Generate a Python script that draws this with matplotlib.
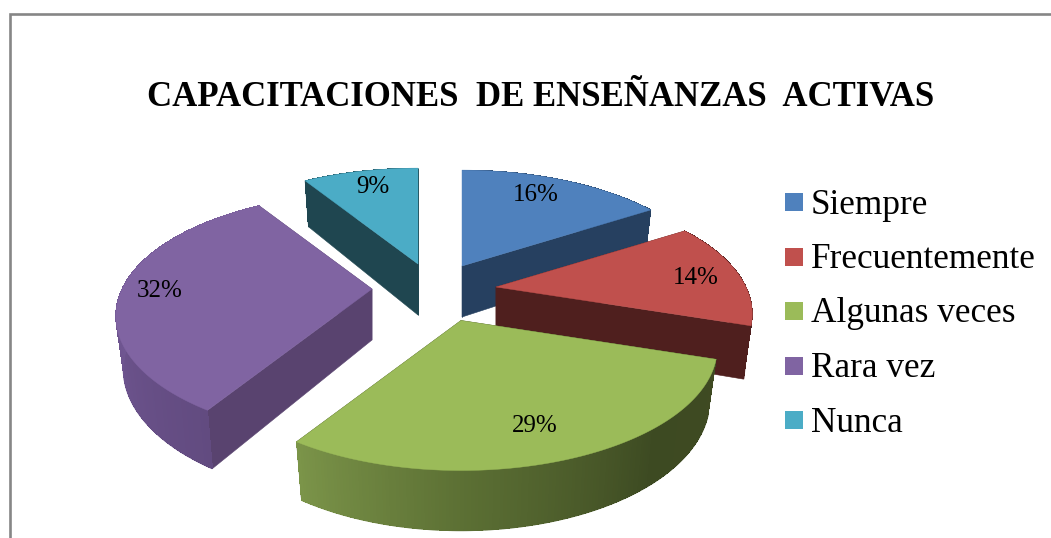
"""Exploded 3D pie drawn by hand, matplotlib has no perspective pie."""

import matplotlib

matplotlib.use("Agg")
import matplotlib.pyplot as plt
import numpy as np
from matplotlib.collections import LineCollection
from matplotlib.colors import to_rgb

TITLE = "CAPACITACIONES  DE ENSEÑANZAS  ACTIVAS"
categories = ["Siempre", "Frecuentemente", "Algunas veces", "Rara vez", "Nunca"]
values = [16, 14, 29, 32, 9]

top_colors = ["#4f81bd", "#c0504d", "#9bbb59", "#8064a2", "#4bacc6"]
wall_colors = ["#264060", "#4f1f1e", "#3f4a22", "#59436f", "#1f4650"]

# apex of each exploded slice, in figure pixels
apex_x = [462, 496, 461, 372, 418]
apex_y = [266, 287, 320.5, 289, 264]
label_x = [536, 696, 535, 160, 373]
label_y = [195, 278, 426, 291, 187]

# outer wall shading, (angle in degrees, colour)
green_shade = [(108, "#3f4a22"), (140, "#3d4a22"), (180, "#5c7034"), (212.4, "#7b9449")]
purple_shade = [(212.4, "#624b80"), (270, "#715793"), (327.6, "#7c619e")]
outer_shades = {2: green_shade, 3: purple_shade}

RX, RY, PERSP = 250, 117, 0.22
DEPTH, BOTTOM_X, BOTTOM_Y = 51, 0.97, 1.06
LEGEND_Y = [202, 257, 311, 366, 420]
LEGEND_BASE = [213.5, 268, 322.5, 377, 431.5]


def project(theta, radius=1.0):
    u = radius * np.sin(theta)
    v = -radius * np.cos(theta)
    w = 1 - PERSP * v
    return RX * u / w, RY * v / w


def top_pt(i, theta, radius=1.0):
    dx, dy = project(theta, radius)
    return apex_x[i] + dx, apex_y[i] + dy


def bottom_pt(i, theta, radius=1.0):
    dx, dy = project(theta, radius)
    return apex_x[i] + BOTTOM_X * dx, apex_y[i] + DEPTH + BOTTOM_Y * dy


def shade(i, deg):
    if i not in outer_shades:
        return to_rgb(wall_colors[i])
    angles = [a for a, _ in outer_shades[i]]
    rgb = np.array([to_rgb(c) for _, c in outer_shades[i]])
    return tuple(np.interp(deg, angles, rgb[:, k]) for k in range(3))


def draw_slice(ax, i, start, end):
    thetas = np.radians(np.linspace(start, end, 160))
    z = 2 + i_order[i]

    # cut walls, under the outer wall so hidden ones stay hidden
    for t in (thetas[0], thetas[-1]):
        x0, y0 = top_pt(i, t)
        x1, y1 = bottom_pt(i, t)
        xs = [apex_x[i], x0, x1, apex_x[i]]
        ys = [apex_y[i], y0, y1, apex_y[i] + DEPTH]
        ax.fill(xs, ys, color=wall_colors[i], lw=0.4, zorder=z)

    # outer wall, aliased quads so neighbours leave no seams
    segs, seg_colors = [], []
    for a, b in zip(thetas[:-1], thetas[1:]):
        ta, tb = top_pt(i, a), top_pt(i, b)
        ba, bb = bottom_pt(i, a), bottom_pt(i, b)
        c = shade(i, np.degrees((a + b) / 2))
        ax.fill(
            [ta[0], tb[0], bb[0], ba[0]],
            [ta[1], tb[1], bb[1], ba[1]],
            color=c,
            lw=0,
            antialiased=False,
            zorder=z + 0.1,
        )
        segs.append([ba, bb])
        seg_colors.append(c)
    # smooth lower rim
    ax.add_collection(LineCollection(segs, colors=seg_colors, linewidths=1.0, zorder=z + 0.1))

    # top face
    xs, ys = top_pt(i, thetas)
    xs = np.r_[apex_x[i], xs]
    ys = np.r_[apex_y[i], ys]
    ax.fill(xs, ys, color=top_colors[i], lw=0.3, zorder=z + 0.5)


# back to front
i_order = {0: 0, 4: 1, 1: 2, 3: 3, 2: 4}

fig = plt.figure(figsize=(10.51, 5.38), dpi=100)
ax = fig.add_axes([0, 0, 1, 1])
ax.set_xlim(0, 1051)
ax.set_ylim(538, 0)
ax.axis("off")

serif = "Liberation Serif"

# chart frame
ax.plot([9.5, 9.5, 1051], [538, 14, 14], color="#868686", lw=1.9, solid_joinstyle="miter")

fracs = np.array(values) / sum(values)
edges = np.r_[0, np.cumsum(fracs)] * 360
for i in range(len(values)):
    draw_slice(ax, i, edges[i], edges[i + 1])

for i, val in enumerate(values):
    ax.text(
        label_x[i], label_y[i], f"{val}%", family=serif, fontsize=18,
        ha="center", va="center", color="black", zorder=10,
    )

ax.text(541, 106, TITLE, family=serif, fontsize=25, weight="bold", ha="center", va="baseline")

for i, name in enumerate(categories):
    ax.fill(
        [785, 803, 803, 785],
        [LEGEND_Y[i] - 9, LEGEND_Y[i] - 9, LEGEND_Y[i] + 9, LEGEND_Y[i] + 9],
        color=top_colors[i],
        lw=0,
    )
    ax.text(811, LEGEND_BASE[i], name, family=serif, fontsize=25.4, ha="left", va="baseline")

fig.savefig("out.png", dpi=100)
plt.close(fig)
